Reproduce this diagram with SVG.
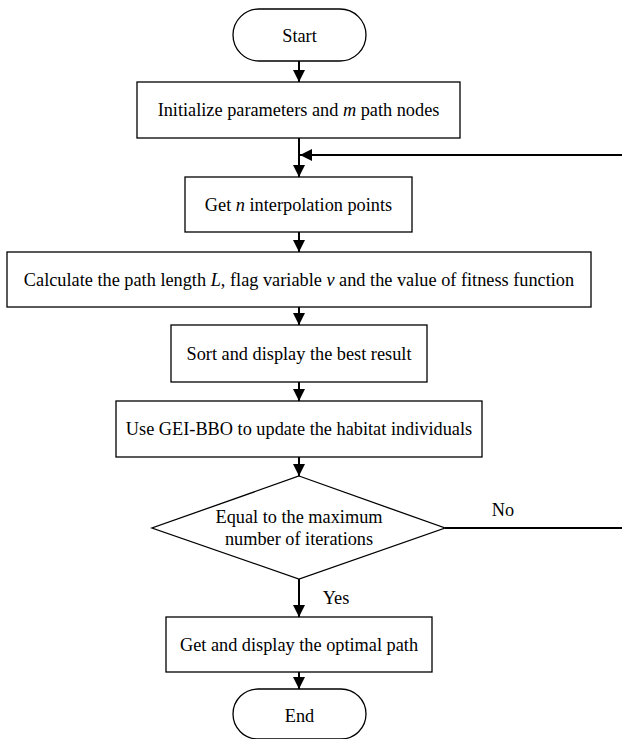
<svg xmlns="http://www.w3.org/2000/svg" width="622" height="739" viewBox="0 0 622 739">
<style>
.n{fill:#fff;stroke:#000;stroke-width:1.3}
.t{font-family:"Liberation Serif","Times New Roman",serif;font-size:18.3px;fill:#000;text-anchor:middle;dominant-baseline:central}
.c{fill:none;stroke:#000;stroke-width:2}
</style>
<defs>
<marker id="ah" markerUnits="userSpaceOnUse" markerWidth="12" markerHeight="12" viewBox="0 0 12 12" refX="12" refY="6" orient="auto">
<path d="M0,0L12,6L0,12z" fill="#000"/>
</marker>
</defs>
<rect width="622" height="739" fill="#fff"/>
<g id="connectors">
<line class="c" x1="299" y1="61" x2="299" y2="82" marker-end="url(#ah)"/>
<line class="c" x1="299" y1="138" x2="299" y2="177" marker-end="url(#ah)"/>
<line class="c" x1="622" y1="155" x2="300" y2="155" marker-end="url(#ah)"/>
<line class="c" x1="299" y1="232" x2="299" y2="252" marker-end="url(#ah)"/>
<line class="c" x1="299" y1="307" x2="299" y2="325" marker-end="url(#ah)"/>
<line class="c" x1="299" y1="382" x2="299" y2="401" marker-end="url(#ah)"/>
<line class="c" x1="299" y1="457" x2="299" y2="476" marker-end="url(#ah)"/>
<line class="c" x1="299" y1="579" x2="299" y2="617" marker-end="url(#ah)"/>
<line class="c" x1="299" y1="672" x2="299" y2="689" marker-end="url(#ah)"/>
<line class="c" x1="445" y1="528" x2="622" y2="528"/>
<text class="t" x="503" y="510">No</text>
<text class="t" x="336" y="598">Yes</text>
</g>
<g id="start">
<rect class="n" x="233" y="9" width="133" height="52" rx="26" ry="26"/>
<text class="t" x="299.5" y="36">Start</text>
</g>
<g id="init">
<rect class="n" x="137" y="82" width="323" height="56"/>
<text class="t" x="298.5" y="110">Initialize parameters and <tspan font-style="italic">m</tspan> path nodes</text>
</g>
<g id="interp">
<rect class="n" x="185" y="177" width="227" height="55"/>
<text class="t" x="298.5" y="205">Get <tspan font-style="italic">n</tspan> interpolation points</text>
</g>
<g id="calc">
<rect class="n" x="7" y="252" width="584" height="55"/>
<text class="t" x="299" y="280">Calculate the path length <tspan font-style="italic">L</tspan>, flag variable <tspan font-style="italic">v</tspan> and the value of fitness function</text>
</g>
<g id="sort">
<rect class="n" x="171" y="325" width="256" height="57"/>
<text class="t" x="299" y="354">Sort and display the best result</text>
</g>
<g id="update">
<rect class="n" x="116" y="401" width="366" height="56"/>
<text class="t" x="299" y="429">Use GEI-BBO to update the habitat individuals</text>
</g>
<g id="decision">
<polygon class="n" points="299,476 445,528 299,579 152,528"/>
<text class="t" x="299" y="517">Equal to the maximum</text>
<text class="t" x="299" y="539">number of iterations</text>
</g>
<g id="optimal">
<rect class="n" x="166" y="617" width="266" height="55"/>
<text class="t" x="299" y="645">Get and display the optimal path</text>
</g>
<g id="end">
<rect class="n" x="233" y="689" width="133" height="50" rx="25" ry="25"/>
<text class="t" x="299.5" y="716">End</text>
</g>
</svg>
